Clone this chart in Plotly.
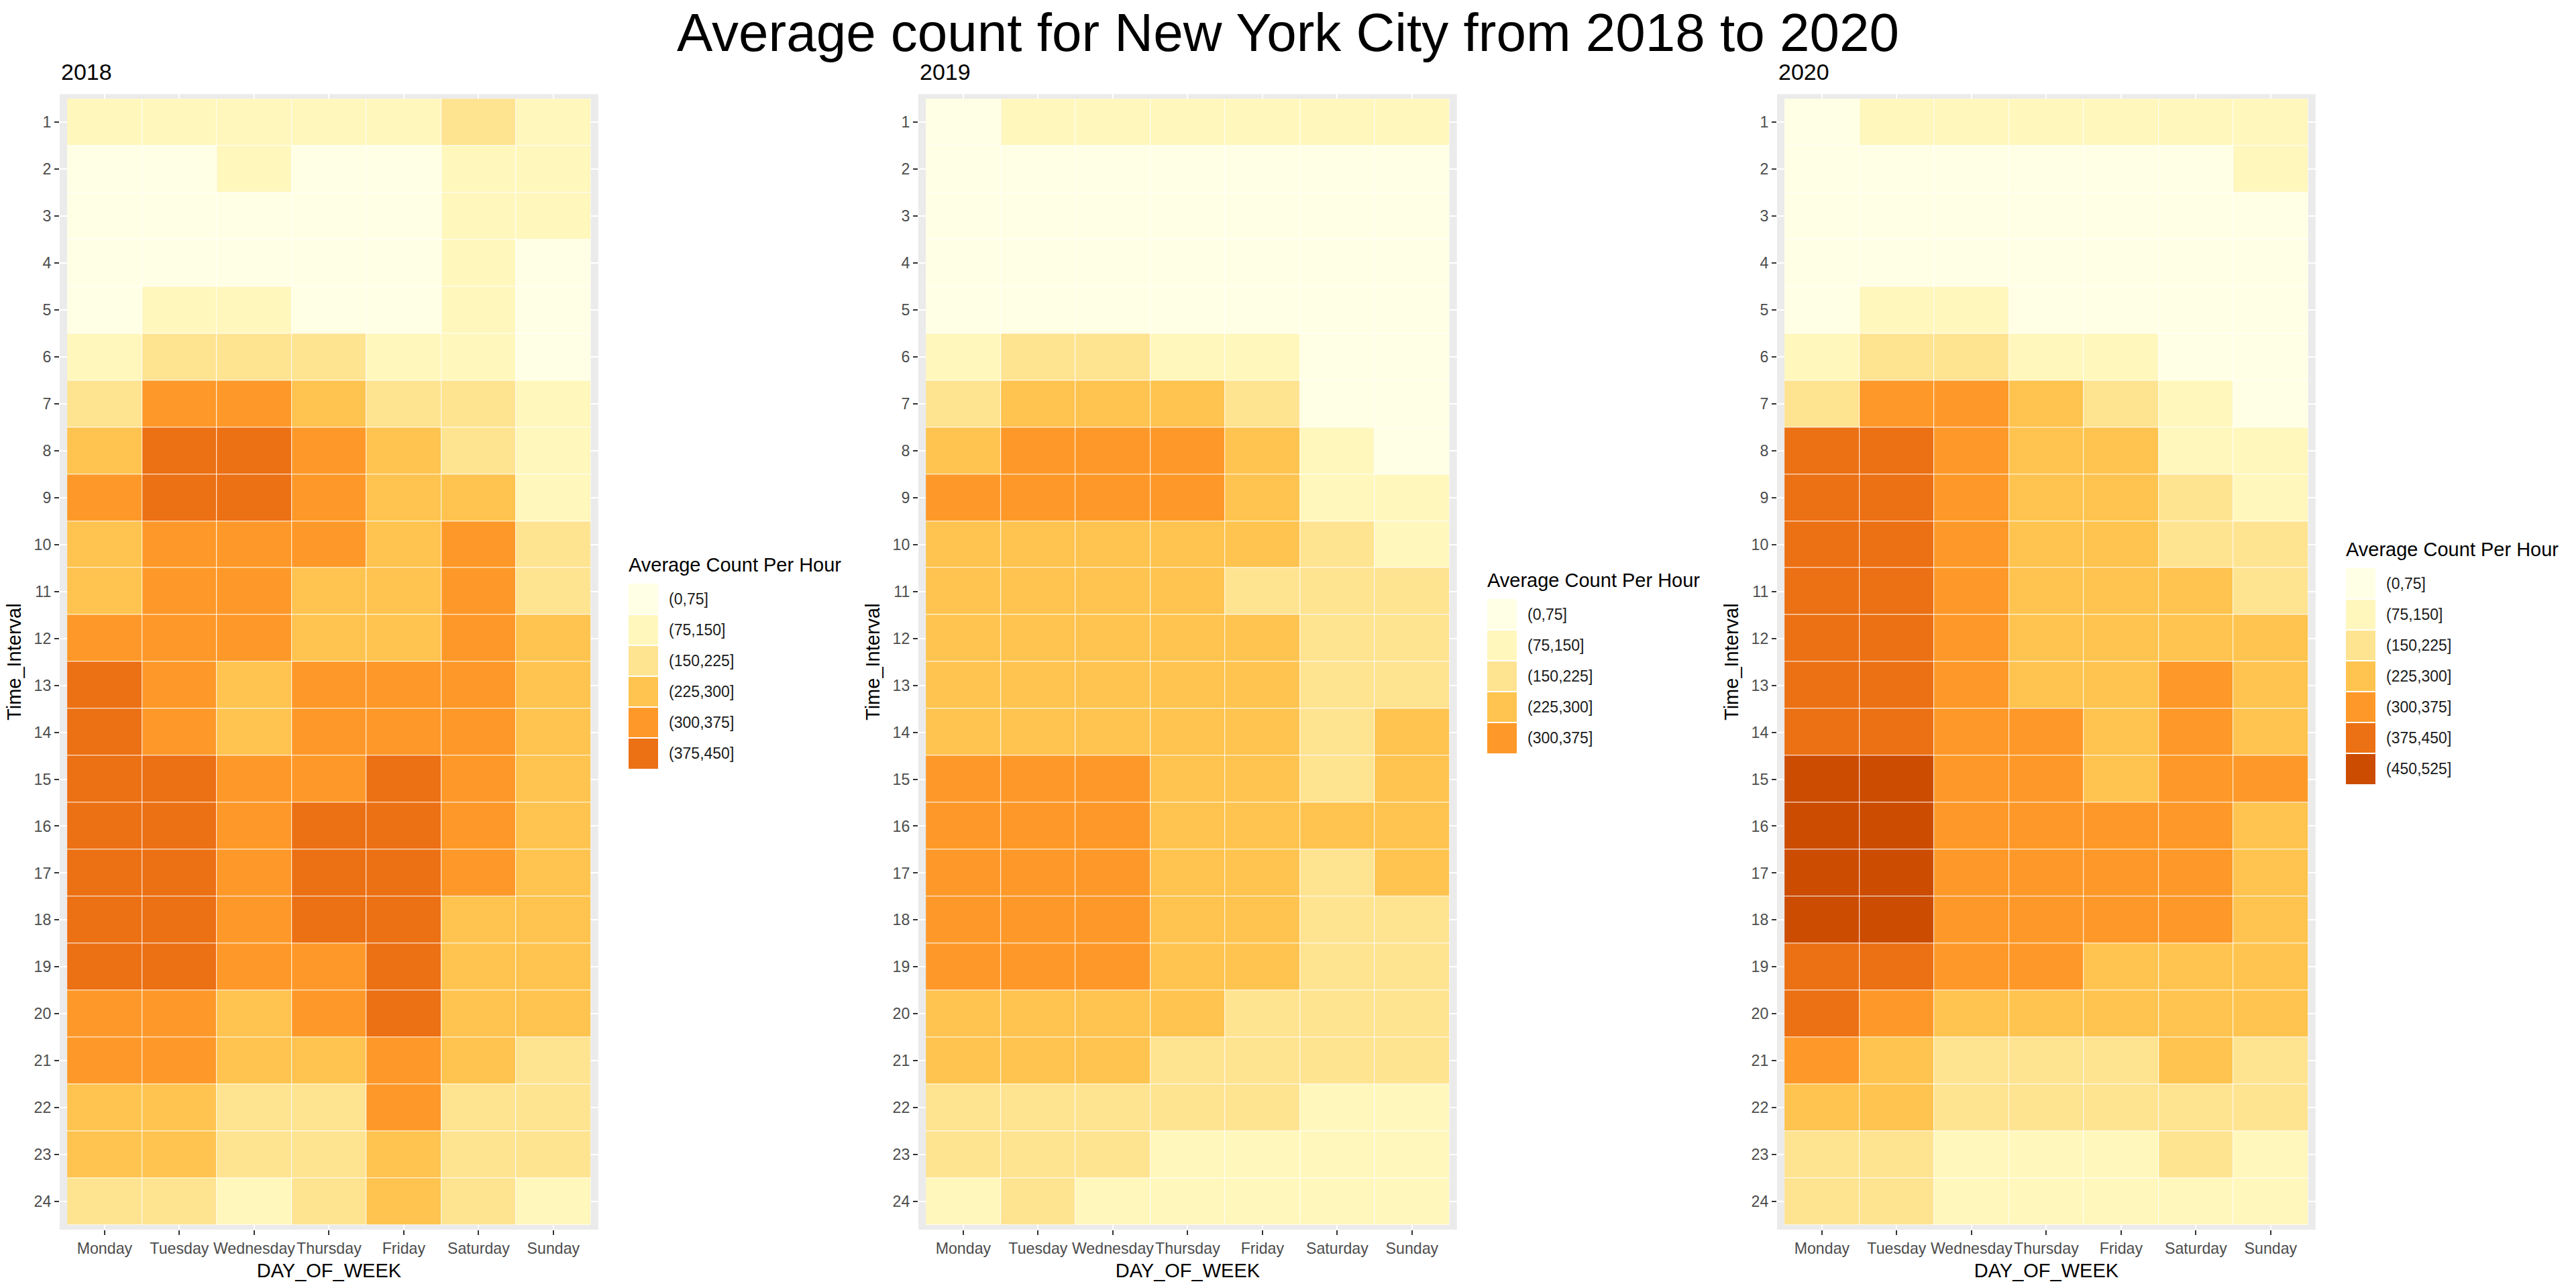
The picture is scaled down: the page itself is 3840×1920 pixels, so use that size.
import numpy as np
import plotly.graph_objects as go

# ---------------- data ----------------
days = ["Monday", "Tuesday", "Wednesday", "Thursday", "Friday", "Saturday", "Sunday"]
hours = list(range(1, 25))
years = ["2018", "2019", "2020"]

bin_edges = [0, 75, 150, 225, 300, 375, 450, 525]
bin_labels = ["(0,75]", "(75,150]", "(150,225]", "(225,300]", "(300,375]", "(375,450]", "(450,525]"]
bin_colors = ["#FFFFE5", "#FFF7BC", "#FEE391", "#FEC44F", "#FE9929", "#EC7014", "#CC4C02"]

# average count per hour, rows = Time_Interval 1..24, columns = Monday..Sunday
counts_2018 = [
    [118, 112, 121, 109, 127, 168, 131],
    [62, 58, 79, 55, 61, 96, 88],
    [44, 41, 45, 39, 48, 84, 79],
    [41, 37, 38, 36, 42, 77, 63],
    [69, 86, 84, 71, 66, 81, 49],
    [138, 172, 176, 163, 141, 112, 68],
    [209, 338, 331, 262, 214, 178, 121],
    [284, 412, 418, 352, 291, 206, 134],
    [318, 398, 403, 341, 279, 247, 146],
    [271, 322, 327, 316, 262, 308, 171],
    [268, 314, 318, 296, 259, 326, 194],
    [312, 323, 309, 287, 272, 339, 238],
    [387, 346, 291, 322, 318, 347, 251],
    [392, 358, 284, 336, 331, 352, 262],
    [421, 384, 362, 358, 391, 349, 266],
    [436, 411, 368, 382, 414, 341, 271],
    [441, 423, 371, 398, 427, 318, 263],
    [429, 418, 364, 389, 431, 296, 258],
    [394, 386, 332, 368, 409, 281, 254],
    [348, 341, 292, 314, 383, 267, 241],
    [311, 307, 273, 268, 336, 252, 211],
    [262, 251, 213, 206, 318, 218, 196],
    [236, 231, 172, 188, 279, 198, 181],
    [178, 169, 143, 156, 246, 171, 139],
]

counts_2019 = [
    [71, 92, 98, 101, 108, 116, 119],
    [38, 42, 45, 47, 52, 66, 64],
    [22, 27, 29, 31, 33, 46, 44],
    [19, 21, 22, 24, 26, 34, 31],
    [41, 48, 47, 46, 44, 31, 26],
    [136, 162, 165, 147, 139, 52, 39],
    [217, 268, 271, 259, 211, 68, 57],
    [292, 338, 342, 329, 282, 104, 73],
    [305, 321, 326, 318, 271, 138, 118],
    [262, 258, 264, 259, 244, 176, 147],
    [254, 249, 252, 248, 221, 204, 188],
    [267, 262, 266, 261, 238, 219, 207],
    [281, 276, 279, 272, 252, 224, 218],
    [294, 289, 292, 284, 266, 221, 228],
    [318, 314, 316, 296, 282, 219, 233],
    [338, 332, 336, 298, 293, 226, 234],
    [346, 341, 343, 297, 291, 218, 229],
    [341, 336, 338, 294, 286, 209, 221],
    [314, 311, 316, 271, 264, 197, 208],
    [276, 272, 278, 241, 219, 186, 191],
    [247, 244, 249, 221, 209, 174, 166],
    [203, 198, 207, 196, 181, 143, 138],
    [167, 164, 171, 147, 139, 121, 112],
    [132, 154, 141, 128, 119, 108, 98],
]

counts_2020 = [
    [68, 96, 99, 104, 112, 121, 126],
    [39, 44, 46, 49, 56, 69, 82],
    [24, 28, 29, 31, 36, 48, 52],
    [21, 23, 24, 25, 28, 37, 38],
    [62, 79, 77, 71, 64, 39, 31],
    [146, 176, 179, 148, 134, 61, 47],
    [219, 332, 328, 281, 206, 97, 72],
    [386, 391, 362, 286, 261, 131, 112],
    [392, 396, 348, 274, 256, 162, 138],
    [389, 394, 336, 268, 251, 188, 171],
    [397, 401, 331, 272, 258, 231, 196],
    [408, 412, 337, 284, 269, 261, 236],
    [421, 426, 348, 296, 281, 309, 252],
    [439, 443, 359, 306, 292, 318, 267],
    [468, 471, 367, 318, 298, 321, 304],
    [482, 487, 372, 331, 309, 316, 289],
    [491, 494, 369, 336, 312, 311, 281],
    [476, 479, 358, 327, 306, 302, 274],
    [432, 428, 331, 309, 284, 281, 262],
    [389, 361, 292, 276, 258, 249, 241],
    [318, 286, 221, 214, 203, 232, 207],
    [261, 256, 197, 191, 178, 181, 169],
    [206, 201, 143, 139, 128, 156, 121],
    [172, 168, 126, 119, 108, 112, 101],
]

counts_by_year = [counts_2018, counts_2019, counts_2020]

# ---------------- layout constants (pixels) ----------------
W, H = 3840, 1920
FONT = "Liberation Sans, Arial, sans-serif"
PANEL_STEP = 1280
PANEL_LEFT, PANEL_RIGHT = 89, 891.8
PANEL_TOP, PANEL_BOTTOM = 140.3, 1833
KEY_LEFT, KEY_W, KEY_H, KEY_CENTER = 937, 44, 46, 1008


def fx(px):
    return px / W


def fy(px):
    return 1 - px / H


fig = go.Figure()
annotations = []
shapes = []

for i, (year, counts) in enumerate(zip(years, counts_by_year)):
    arr = np.array(counts, dtype=float)
    idx = np.searchsorted(bin_edges, arr, side="left") - 1      # bin of each cell, (a,b]
    n = int(idx.max()) + 1                                       # levels present this year
    sfx = "" if i == 0 else str(i + 1)
    off = i * PANEL_STEP

    # the legend lists the lowest bin on top, so plot the reversed level number
    zrev = (n - 1) - idx
    cols = bin_colors[:n][::-1]
    labs = bin_labels[:n][::-1]

    # discrete colorscale with thin white separators (visible only in the legend bar)
    eps = 0.9 / (KEY_H * n)
    cs = [[0.0, cols[0]]]
    for k in range(1, n):
        b = k / n
        cs += [[b - eps, cols[k - 1]], [b - eps, "#FFFFFF"],
               [b + eps, "#FFFFFF"], [b + eps, cols[k]]]
    cs.append([1.0, cols[n - 1]])

    labels_grid = [[bin_labels[v] for v in row] for row in idx]

    fig.add_trace(go.Heatmap(
        x=days, y=hours, z=zrev, customdata=arr, text=labels_grid,
        zmin=-0.5, zmax=n - 0.5, colorscale=cs,
        xgap=1, ygap=1,
        xaxis="x" + sfx, yaxis="y" + sfx,
        hovertemplate="%{x}, hour %{y}<br>%{customdata:.0f} %{text}<extra>" + year + "</extra>",
        colorbar=dict(
            x=fx(KEY_LEFT + off), xanchor="left", xpad=0,
            y=fy(KEY_CENTER), yanchor="middle", ypad=0,
            lenmode="pixels", len=KEY_H * n,
            thicknessmode="pixels", thickness=KEY_W,
            outlinewidth=0, borderwidth=0,
            tickmode="array", tickvals=list(range(n)), ticktext=labs,
            ticks="outside", ticklen=12, tickcolor="rgba(0,0,0,0)",
            tickfont=dict(family=FONT, size=23, color="#1A1A1A"),
        ),
    ))

    axis_common = dict(
        automargin=False,
        ticks="outside", ticklen=7, tickwidth=2, tickcolor="#333333",
        tickfont=dict(family=FONT, size=23.2, color="#4D4D4D"),
        showgrid=True, gridcolor="#FFFFFF", gridwidth=2,
        zeroline=False, showline=False,
    )
    fig.update_layout({
        "xaxis" + sfx: dict(
            axis_common,
            domain=[fx(PANEL_LEFT + off), fx(PANEL_RIGHT + off)],
            anchor="y" + sfx,
            type="category", categoryorder="array", categoryarray=days,
            range=[-0.6, len(days) - 0.4], tickangle=0,
            title=dict(text="DAY_OF_WEEK", font=dict(family=FONT, size=29, color="#000000"), standoff=10),
        ),
        "yaxis" + sfx: dict(
            axis_common,
            domain=[fy(PANEL_BOTTOM), fy(PANEL_TOP)],
            anchor="x" + sfx,
            range=[hours[-1] + 0.6, hours[0] - 0.6],
            tickmode="array", tickvals=hours, ticktext=[str(h) for h in hours],
            title=dict(text="Time_Interval", font=dict(family=FONT, size=29, color="#000000"), standoff=10),
        ),
    })

    # white backing under the tiles so the tile gaps read as white borders
    shapes.append(dict(
        type="rect", xref="x" + sfx, yref="y" + sfx,
        x0=-0.5, x1=len(days) - 0.5, y0=hours[0] - 0.5, y1=hours[-1] + 0.5,
        fillcolor="#FFFFFF", line=dict(width=0), layer="below",
    ))

    # panel title
    annotations.append(dict(
        text=year, xref="paper", yref="paper", x=fx(PANEL_LEFT + off), y=fy(107),
        xanchor="left", yanchor="middle", showarrow=False,
        font=dict(family=FONT, size=34, color="#000000"),
    ))
    # legend title
    annotations.append(dict(
        text="Average Count Per Hour", xref="paper", yref="paper",
        x=fx(KEY_LEFT - 2 + off), y=fy(KEY_CENTER - KEY_H * n / 2 - 28),
        xanchor="left", yanchor="middle", showarrow=False,
        font=dict(family=FONT, size=29, color="#000000"),
    ))

fig.update_layout(
    width=W, height=H,
    margin=dict(l=0, r=0, t=0, b=0, autoexpand=False),
    paper_bgcolor="#FFFFFF", plot_bgcolor="#EBEBEB",
    font=dict(family=FONT, color="#000000"),
    title=dict(
        text="Average count for New York City from 2018 to 2020",
        x=0.5, xanchor="center", y=1, yref="container", yanchor="top",
        pad=dict(t=20),
        font=dict(family=FONT, size=80, color="#000000"),
    ),
    annotations=annotations,
    shapes=shapes,
    showlegend=False,
)

fig.write_html("out.html")
